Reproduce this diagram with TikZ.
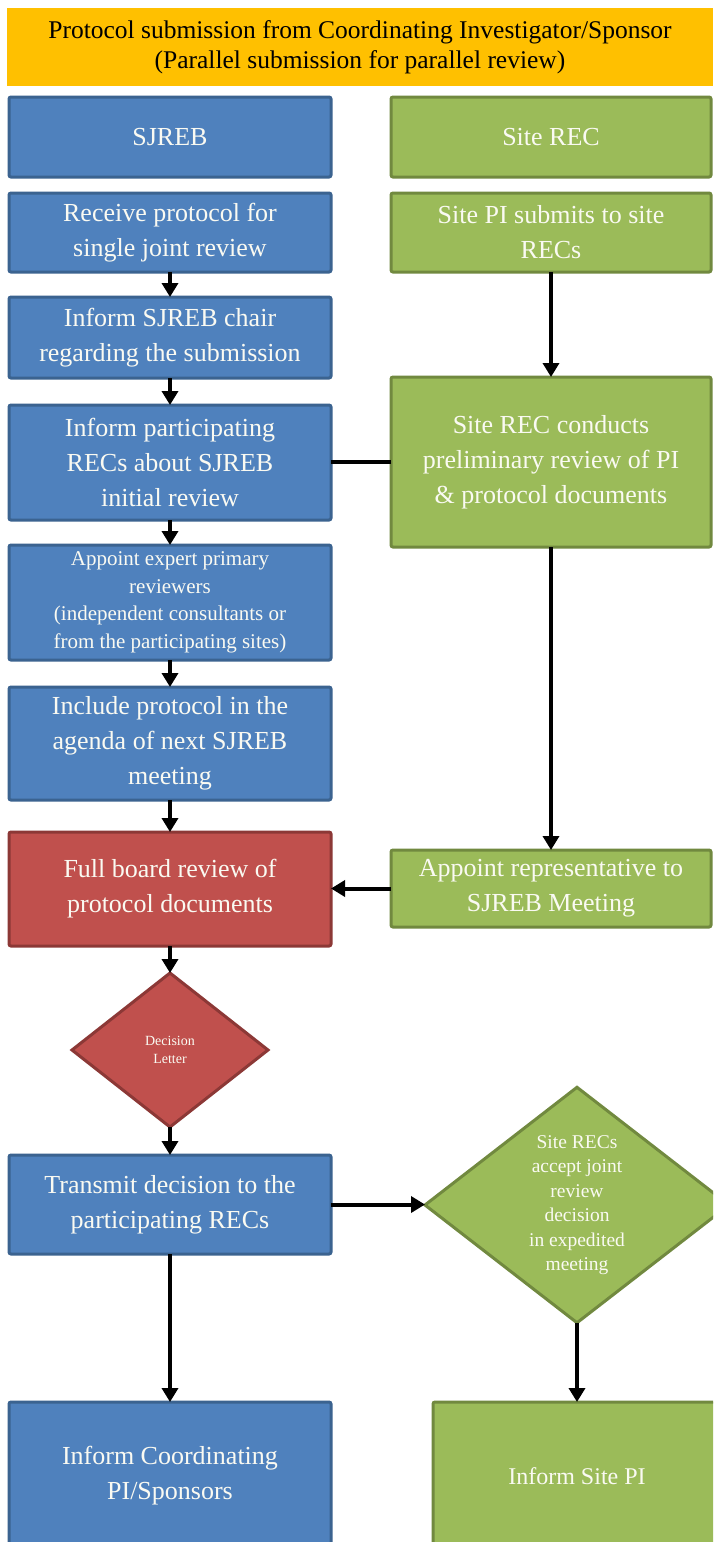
\documentclass[tikz,border=0pt]{standalone}
\usepackage{fontspec}
\setmainfont{Liberation Serif}
\usetikzlibrary{shapes.geometric,arrows.meta}
\definecolor{bfill}{HTML}{4F81BD}
\definecolor{bline}{HTML}{3B6390}
\definecolor{gfill}{HTML}{9BBB59}
\definecolor{gline}{HTML}{71893F}
\definecolor{rfill}{HTML}{C0504D}
\definecolor{rline}{HTML}{8C3836}
\definecolor{ofill}{HTML}{FFC000}
\definecolor{btext}{HTML}{FAFAF2}
\tikzset{
  base/.style={rectangle, rounded corners=2pt, inner sep=0pt, outer sep=0pt, line width=3pt,
    align=center, text=btext, font=\fontsize{26}{35}\selectfont},
  bluebox/.style={base, fill=bfill, draw=bline},
  greenbox/.style={base, fill=gfill, draw=gline},
  redbox/.style={base, fill=rfill, draw=rline},
  conn/.style={line width=4pt, black},
  arr/.style={conn, -{Triangle[width=16pt,length=14pt]}},
  lw/.style={minimum width=322pt},
  rw/.style={minimum width=320pt},
}
\begin{document}
\begin{tikzpicture}[x=1pt,y=-1pt]
\clip (0,0) rectangle (713,1542);
\fill[white] (0,0) rectangle (713,1542);

\node[rectangle, fill=ofill, inner sep=0pt, minimum width=706pt, minimum height=78pt,
  align=center, font=\fontsize{25.5}{30}\selectfont] (hdr) at (360,47)
  {Protocol submission from Coordinating Investigator/Sponsor\\(Parallel submission for parallel review)};

\node[bluebox, lw, minimum height=80pt] (sjreb) at (170,137) {SJREB};
\node[greenbox, rw, minimum height=80pt] (siterec) at (551,137) {Site REC};

\node[bluebox, lw, minimum height=79pt] (receive) at (170,232.5) {Receive protocol for\\single joint review};
\node[greenbox, rw, minimum height=79pt] (sitepi) at (551,232.5) {Site PI submits to site\\RECs};

\node[bluebox, lw, minimum height=81pt] (chair) at (170,337.5) {Inform SJREB chair\\regarding the submission};

\node[bluebox, lw, minimum height=115pt] (particip) at (170,462.5) {Inform participating\\RECs about SJREB\\initial review};
\node[greenbox, rw, minimum height=170pt] (conducts) at (551,462) {Site REC conducts\\preliminary review of PI\\\& protocol documents};

\node[bluebox, lw, minimum height=115pt, font=\fontsize{21}{27.5}\selectfont] (expert) at (170,602.5)
  {Appoint expert primary\\reviewers\\(independent consultants or\\from the participating sites)};

\node[bluebox, lw, minimum height=113pt] (include) at (170,743.5) {Include protocol in the\\agenda of next SJREB\\meeting};

\node[redbox, lw, minimum height=114pt] (fullboard) at (170,889) {Full board review of\\protocol documents};
\node[greenbox, rw, minimum height=77pt] (apprep) at (551,888.5) {Appoint representative to\\SJREB Meeting};

\node[redbox, diamond, rounded corners=0pt, minimum width=196pt, minimum height=154pt,
  font=\fontsize{14}{18}\selectfont] (decision) at (170,1050) {Decision\\Letter};

\node[bluebox, lw, minimum height=99pt] (transmit) at (170,1204.5) {Transmit decision to the\\participating RECs};

\node[greenbox, diamond, rounded corners=0pt, minimum width=304pt, minimum height=226pt,
  font=\fontsize{19.5}{24.5}\selectfont] (accept) at (577,1205)
  {Site RECs\\accept joint\\review\\decision\\in expedited\\meeting};

\node[bluebox, lw, minimum height=148pt] (coord) at (170,1476) {Inform Coordinating\\PI/Sponsors};
\node[greenbox, minimum width=288pt, minimum height=148pt, font=\fontsize{24}{30}\selectfont] (sitepi2) at (577,1476) {Inform Site PI};

\draw[arr] (receive.south) -- (chair.north);
\draw[arr] (chair.south) -- (particip.north);
\draw[arr] (particip.south) -- (expert.north);
\draw[arr] (expert.south) -- (include.north);
\draw[arr] (include.south) -- (fullboard.north);
\draw[arr] (fullboard.south) -- (decision.north);
\draw[arr] (decision.south) -- (transmit.north);
\draw[arr] (sitepi.south) -- (sitepi.south |- conducts.north);
\draw[arr] (conducts.south) -- (conducts.south |- apprep.north);
\draw[conn] (conducts.west) -- (conducts.west -| particip.east);
\draw[arr] (apprep.west) -- (apprep.west -| fullboard.east);
\draw[arr] (transmit.east) -- (transmit.east -| accept.west);
\draw[arr] (transmit.south) -- (coord.north);
\draw[arr] (accept.south) -- (accept.south |- sitepi2.north);
\end{tikzpicture}
\end{document}
